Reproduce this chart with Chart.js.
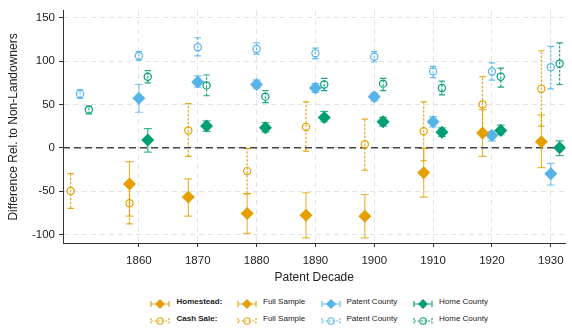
<!DOCTYPE html>
<html>
<head>
<meta charset="utf-8">
<script src="https://cdn.jsdelivr.net/npm/chart.js@4.4.1/dist/chart.umd.min.js"></script>
<style>
  html, body { margin: 0; padding: 0; background: #fff; }
  #wrap { position: relative; width: 572px; height: 329px; font-family: "Liberation Sans", Arial, sans-serif; }
  #box { position: absolute; left: 0; top: 0; width: 572px; height: 290px; }
  .lg { position: absolute; font-size: 8px; color: #222; line-height: 10px; white-space: nowrap; }
  .lg b { font-weight: bold; }
  .ic { position: absolute; }
</style>
</head>
<body>
<div id="wrap">
  <div id="box"><canvas id="chart"></canvas></div>
  <div id="legend"></div>
</div>
<script>
// decades on the x axis
const decades = [1850, 1860, 1870, 1880, 1890, 1900, 1910, 1920, 1930];
const xTicks = [1860, 1870, 1880, 1890, 1900, 1910, 1920, 1930];
const yTicks = [-100, -50, 0, 50, 100, 150];

// Homestead (no 1850 value)
const hsFull     = [null, -42, -57, -76, -78, -79, -29, 17, 7];
const hsFullLo   = [null, -79, -79, -99, -104, -104, -57, -10, -23];
const hsFullHi   = [null, -16, -36, -53, -52, -54, -1, 44, 38];
const hsPatent   = [null, 57, 76, 73, 69, 59, 30, 14, -30];
const hsPatentLo = [null, 41, 70, 69, 64, 54, 24, 8, -43];
const hsPatentHi = [null, 73, 83, 78, 74, 63, 36, 19, -18];
const hsHome     = [null, 9, 25, 23, 35, 30, 18, 20, 0];
const hsHomeLo   = [null, -5, 19, 18, 30, 25, 13, 15, -9];
const hsHomeHi   = [null, 22, 31, 29, 42, 35, 23, 26, 8];

// Cash sale
const csFull     = [-50, -64, 20, -27, 24, 4, 19, 50, 68];
const csFullLo   = [-70, -88, -10, -53, -4, -26, -15, 18, 25];
const csFullHi   = [-30, -40, 51, -1, 53, 33, 53, 82, 112];
const csPatent   = [62, 106, 116, 114, 109, 105, 88, 88, 93];
const csPatentLo = [57, 101, 106, 108, 103, 99, 81, 78, 68];
const csPatentHi = [67, 111, 127, 121, 115, 111, 94, 98, 117];
const csHome     = [44, 82, 72, 59, 73, 74, 69, 82, 97];
const csHomeLo   = [39, 75, 60, 52, 66, 66, 61, 70, 73];
const csHomeHi   = [48, 89, 84, 66, 80, 80, 77, 92, 121];

const ORANGE = "#E69F00", BLUE = "#56B4E9", GREEN = "#009E73";

function pts(vals, lo, hi, shift) {
  const out = [];
  decades.forEach((d, i) => {
    if (vals[i] === null) return;
    out.push({ x: d + shift, y: vals[i], lo: lo[i], hi: hi[i] });
  });
  return out;
}

function hsSet(label, vals, lo, hi, shift, color) {
  return {
    label, data: pts(vals, lo, hi, shift),
    pointStyle: "rectRot", pointRadius: 6.5, pointHoverRadius: 6.5,
    backgroundColor: color, borderColor: color, borderWidth: 0,
    barColor: color, barDash: [], capHalf: 4, barAlpha: 0.75, showLine: false
  };
}
function csSet(label, vals, lo, hi, shift, color) {
  return {
    label, data: pts(vals, lo, hi, shift),
    pointStyle: "circle", pointRadius: 3.6, pointHoverRadius: 3.6,
    backgroundColor: "rgba(0,0,0,0)", borderColor: color, borderWidth: 1.2,
    barColor: color, barDash: [2.5, 1.5], capHalf: 3.2, barAlpha: 0.9, showLine: false
  };
}

// error bars under the markers, plus the dashed zero line
const errorBars = {
  id: "errorBars",
  beforeDatasetsDraw(chart) {
    const ctx = chart.ctx, ys = chart.scales.y, area = chart.chartArea;
    ctx.save();
    ctx.beginPath();
    ctx.rect(area.left, area.top, area.right - area.left, area.bottom - area.top);
    ctx.clip();
    chart.data.datasets.forEach((ds, di) => {
      const meta = chart.getDatasetMeta(di);
      ctx.strokeStyle = ds.barColor;
      ctx.globalAlpha = ds.barAlpha;
      ctx.lineWidth = 1.2;
      meta.data.forEach((el, i) => {
        const p = ds.data[i];
        const x = el.x, y1 = ys.getPixelForValue(p.lo), y2 = ys.getPixelForValue(p.hi);
        ctx.setLineDash(ds.barDash);
        ctx.beginPath(); ctx.moveTo(x, y1); ctx.lineTo(x, y2); ctx.stroke();
        ctx.setLineDash([]);
        ctx.beginPath();
        ctx.moveTo(x - ds.capHalf, y1); ctx.lineTo(x + ds.capHalf, y1);
        ctx.moveTo(x - ds.capHalf, y2); ctx.lineTo(x + ds.capHalf, y2);
        ctx.stroke();
      });
    });
    ctx.globalAlpha = 1;
    const y0 = ys.getPixelForValue(0);
    ctx.strokeStyle = "#444";
    ctx.lineWidth = 1.4;
    ctx.setLineDash([7, 4]);
    ctx.beginPath(); ctx.moveTo(area.left, y0); ctx.lineTo(area.right, y0); ctx.stroke();
    ctx.restore();
  }
};

const tickFont = { family: "'Liberation Sans', Arial, sans-serif", size: 11.5 };
const titleFont = { family: "'Liberation Sans', Arial, sans-serif", size: 12 };

new Chart(document.getElementById("chart"), {
  type: "scatter",
  data: {
    datasets: [
      csSet("Cash Sale: Full Sample", csFull, csFullLo, csFullHi, -1.6, ORANGE),
      csSet("Cash Sale: Patent County", csPatent, csPatentLo, csPatentHi, 0, BLUE),
      csSet("Cash Sale: Home County", csHome, csHomeLo, csHomeHi, 1.5, GREEN),
      hsSet("Homestead: Full Sample", hsFull, hsFullLo, hsFullHi, -1.6, ORANGE),
      hsSet("Homestead: Patent County", hsPatent, hsPatentLo, hsPatentHi, 0, BLUE),
      hsSet("Homestead: Home County", hsHome, hsHomeLo, hsHomeHi, 1.5, GREEN)
    ]
  },
  options: {
    responsive: true,
    maintainAspectRatio: false,
    animation: false,
    layout: { padding: { top: 5, right: 0, left: 0, bottom: 0 } },
    plugins: { legend: { display: false }, tooltip: { enabled: false } },
    scales: {
      x: {
        type: "linear", min: 1847.1, max: 1932.5,
        afterBuildTicks: s => { s.ticks = xTicks.map(v => ({ value: v })); },
        afterFit: s => { s.height = 47; },
        grid: { color: "#e3e3e3", lineWidth: 1, tickLength: 4, tickColor: "#333", tickWidth: 1 },
        border: { color: "#333", width: 1, dash: [5, 4] },
        ticks: { color: "#222", font: tickFont, padding: 7, maxRotation: 0, callback: v => String(v) },
        title: { display: true, text: "Patent Decade", color: "#222", font: titleFont, padding: { top: 0, bottom: 5 } }
      },
      y: {
        type: "linear", min: -110, max: 158,
        afterBuildTicks: s => { s.ticks = yTicks.map(v => ({ value: v })); },
        afterFit: s => { s.width = 63; },
        grid: { color: "#e3e3e3", lineWidth: 1, tickLength: 4, tickColor: "#333", tickWidth: 1 },
        border: { color: "#333", width: 1, dash: [5, 4] },
        ticks: { color: "#222", font: tickFont, padding: 4 },
        title: { display: true, text: "Difference Rel. to Non-Landowners", color: "#222", font: titleFont, padding: { top: 6, bottom: 0 } }
      }
    }
  },
  plugins: [errorBars]
});

// legend below the chart
function icon(color, solid) {
  const dash = solid ? "" : ' stroke-dasharray="2,1.5"';
  const mark = solid
    ? `<polygon points="10,1 15,6 10,11 5,6" fill="${color}"/>`
    : `<circle cx="10" cy="6" r="3.2" fill="none" stroke="${color}" stroke-width="1.1"/>`;
  return `<svg width="20" height="12" viewBox="0 0 20 12">` +
    `<line x1="1" y1="6" x2="19" y2="6" stroke="${color}" stroke-width="1.1"${dash} opacity="0.85"/>` +
    `<line x1="1" y1="3" x2="1" y2="9" stroke="${color}" stroke-width="1.1"${dash}/>` +
    `<line x1="19" y1="3" x2="19" y2="9" stroke="${color}" stroke-width="1.1"${dash}/>` +
    mark + `</svg>`;
}
const legendRows = [
  { y: 302, head: "Homestead:", solid: true },
  { y: 319, head: "Cash Sale:", solid: false }
];
const legendCols = [
  { ix: 150, tx: 176.5, color: ORANGE },
  { ix: 236.5, tx: 263, color: ORANGE, text: "Full Sample" },
  { ix: 321, tx: 346.5, color: BLUE, text: "Patent County" },
  { ix: 412.5, tx: 439, color: GREEN, text: "Home County" }
];
let html = "";
legendRows.forEach(r => {
  legendCols.forEach((c, ci) => {
    html += `<div class="ic" style="left:${c.ix}px;top:${r.y - 6}px">${icon(c.color, r.solid)}</div>`;
    const txt = ci === 0 ? `<b>${r.head}</b>` : c.text;
    html += `<div class="lg" style="left:${c.tx}px;top:${r.y - 5}px">${txt}</div>`;
  });
});
document.getElementById("legend").innerHTML = html;
</script>
</body>
</html>
